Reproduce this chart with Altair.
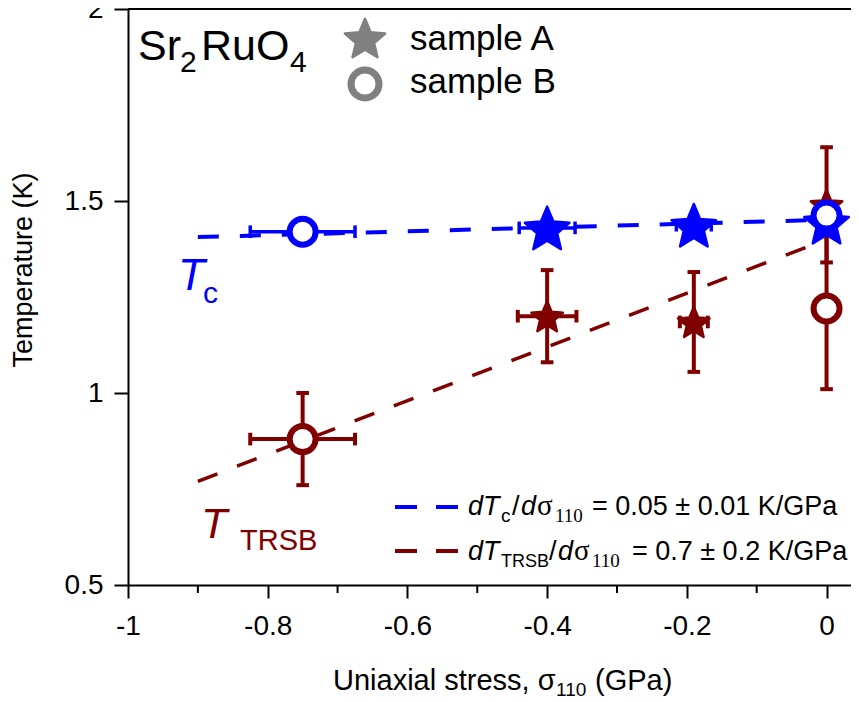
import altair as alt
import pandas as pd

# ---------------- data ----------------
x_ticks = [-1, -0.8, -0.6, -0.4, -0.2, 0]
x_minor = [-0.9, -0.7, -0.5, -0.3, -0.1]
y_ticks = [0.5, 1, 1.5, 2]
y_top = [2.0]

tc_x = [-0.75, -0.40, -0.19, 0.0, 0.0]
tc_y = [1.42, 1.43, 1.437, 1.445, 1.462]
tc_xerr = [0.075, 0.04, 0.025, 0.0, 0.0]
tc_yerr = [0.0, 0.0, 0.0, 0.0, 0.0]
tc_sample = ["B", "A", "A", "A", "B"]

trsb_x = [-0.75, -0.40, -0.19, 0.0, 0.0]
trsb_y = [0.88, 1.20, 1.185, 1.49, 1.22]
trsb_xerr = [0.075, 0.042, 0.02, 0.0, 0.0]
trsb_yerr = [0.12, 0.12, 0.13, 0.15, 0.21]
trsb_sample = ["B", "A", "A", "A", "B"]

tc_fit_x = [-0.9, 0.0]
tc_fit_y = [1.406, 1.451]
trsb_fit_x = [-0.9, 0.0]
trsb_fit_y = [0.77, 1.40]

BLUE = "#0000FF"
RED = "#800000"
GRAY = "#808080"
SANS = "Liberation Sans"
SERIF = "Liberation Serif"

STAR = ("M0,-0.905L0.265,-0.269L0.951,-0.214L0.428,0.235L0.588,0.905L0,0.546"
        "L-0.588,0.905L-0.428,0.235L-0.951,-0.214L-0.265,-0.269Z")
VCAP = "M0,-1L0,1"
HCAP = "M-1,0L1,0"

xs = alt.Scale(domain=[-1, 0.035], nice=False, zero=False)
ys = alt.Scale(domain=[0.5, 2.0], nice=False, zero=False)

x_axis = alt.Axis(values=x_ticks, labelExpr="datum.value + ''", title=None, grid=False,
                  tickSize=13, tickWidth=2, tickColor="black", domainWidth=2, domainColor="black",
                  labelFontSize=28, labelFont=SANS, labelColor="black", labelPadding=14,
                  labelFlush=False, labelOverlap=False)
y_axis = alt.Axis(values=y_ticks, labelExpr="datum.value + ''", title=None, grid=False,
                  tickSize=14, tickWidth=2, tickColor="black", domainWidth=2, domainColor="black",
                  labelFontSize=28, labelFont=SANS, labelColor="black", labelPadding=11,
                  labelFlush=False, labelOverlap=False)


def X(f):
    return alt.X(f"{f}:Q", scale=xs, axis=x_axis)


def Y(f):
    return alt.Y(f"{f}:Q", scale=ys, axis=y_axis)


def frame(xv, yv, xe, ye, smp):
    df = pd.DataFrame({"x": xv, "y": yv, "xerr": xe, "yerr": ye, "sample": smp})
    df["xl"] = df.x - df.xerr
    df["xh"] = df.x + df.xerr
    df["yl"] = df.y - df.yerr
    df["yh"] = df.y + df.yerr
    return df


tc = frame(tc_x, tc_y, tc_xerr, tc_yerr, tc_sample)
trsb = frame(trsb_x, trsb_y, trsb_xerr, trsb_yerr, trsb_sample)


def series_layers(df, color, star_size, lw):
    out = []
    dx = df[df.xerr > 0]
    dy = df[df.yerr > 0]
    if len(dy):
        out.append(alt.Chart(dy).mark_rule(color=color, strokeWidth=lw).encode(
            x=X("x"), y=Y("yl"), y2="yh"))
        for c in ["yl", "yh"]:
            out.append(alt.Chart(dy).mark_point(shape=HCAP, size=160, stroke=color, strokeWidth=lw,
                                                filled=False, opacity=1).encode(x=X("x"), y=Y(c)))
    if len(dx):
        out.append(alt.Chart(dx).mark_rule(color=color, strokeWidth=lw).encode(
            x=X("xl"), x2="xh", y=Y("y")))
        for c in ["xl", "xh"]:
            out.append(alt.Chart(dx).mark_point(shape=VCAP, size=160, stroke=color, strokeWidth=lw,
                                                filled=False, opacity=1).encode(x=X(c), y=Y("y")))
    da = df[df["sample"] == "A"]
    db = df[df["sample"] == "B"]
    out.append(alt.Chart(da).mark_point(shape=STAR, size=star_size, filled=True, fill=color,
                                        stroke=color, strokeWidth=2.5, strokeJoin="round",
                                        opacity=1).encode(x=X("x"), y=Y("y")))
    out.append(alt.Chart(db).mark_point(shape="circle", size=676, filled=False, fill="white",
                                        fillOpacity=1, stroke=color, strokeWidth=6,
                                        opacity=1).encode(x=X("x"), y=Y("y")))
    return out


def fit_line(xv, yv, color, width):
    d = pd.DataFrame({"x": xv, "y": yv})
    return alt.Chart(d).mark_line(color=color, strokeWidth=width, strokeDash=[21, 21]).encode(
        x=X("x"), y=Y("y"))


def txt(s, x, y, size, color="black", italic=False, font=SANS, align="left", angle=0):
    return alt.Chart(pd.DataFrame({"t": [s]})).mark_text(
        align=align, baseline="alphabetic", fontSize=size, font=font,
        fontStyle="italic" if italic else "normal", color=color, angle=angle
    ).encode(x=alt.value(x), y=alt.value(y), text="t:N")


def legend_dash(color, y):
    return alt.Chart(pd.DataFrame({"a": [0]})).mark_rule(
        color=color, strokeWidth=4, strokeDash=[22, 19]).encode(
        x=alt.value(267), x2=alt.value(332), y=alt.value(y))


layers = []
layers.append(fit_line(tc_fit_x, tc_fit_y, BLUE, 4))
layers.append(fit_line(trsb_fit_x, trsb_fit_y, RED, 3.5))
layers += series_layers(trsb, RED, 1100, 4)
layers += series_layers(tc, BLUE, 2200, 3.5)

# top frame line and minor ticks
layers.append(alt.Chart(pd.DataFrame({"y": y_top})).mark_rule(color="black", strokeWidth=2).encode(
    y=Y("y")))
layers.append(alt.Chart(pd.DataFrame({"x": x_minor})).mark_rule(color="black", strokeWidth=2).encode(
    x=X("x"), y=alt.value(576), y2=alt.value(584)))

# top legend
layers.append(alt.Chart(pd.DataFrame({"a": [0]})).mark_point(
    shape=STAR, size=1800, filled=True, fill=GRAY, stroke=GRAY, strokeWidth=2.5,
    strokeJoin="round", opacity=1).encode(x=alt.value(237), y=alt.value(29)))
layers.append(alt.Chart(pd.DataFrame({"a": [0]})).mark_point(
    shape="circle", size=784, filled=False, fill="white", fillOpacity=1, stroke=GRAY,
    strokeWidth=7, opacity=1).encode(x=alt.value(237), y=alt.value(75)))
layers.append(txt("sample A", 282, 41, 35))
layers.append(txt("sample B", 282, 84, 35))

# Sr2RuO4
layers.append(txt("Sr", 10, 51, 43))
layers.append(txt("2", 52, 63, 30))
layers.append(txt("RuO", 73, 51, 43))
layers.append(txt("4", 162, 63, 30))

# curve labels
layers.append(txt("T", 50, 281, 44, BLUE, italic=True))
layers.append(txt("c", 75, 294, 30, BLUE))
layers.append(txt("T", 73, 529, 43, RED, italic=True))
layers.append(txt("TRSB", 112, 541, 29, RED))

# slope legend
layers.append(legend_dash(BLUE, 498))
layers.append(legend_dash(RED, 542))
for (s, x, y, f, it, fn) in [
    ("d", 340, 506, 27, True, SANS), ("T", 355, 506, 27, True, SANS), ("c", 373, 513, 19, False, SANS),
    ("/", 384, 506, 27, False, SANS), ("d", 393, 506, 27, True, SANS), ("σ", 409, 506, 29, False, SERIF),
    ("110", 427, 513, 19, False, SERIF), ("= 0.05 ± 0.01 K/GPa", 464, 506, 27, False, SANS),
    ("d", 340, 551, 27, True, SANS), ("T", 355, 551, 27, True, SANS), ("TRSB", 373, 558, 18, False, SANS),
    ("/", 421, 551, 27, False, SANS), ("d", 430, 551, 27, True, SANS), ("σ", 446, 551, 29, False, SERIF),
    ("110", 464, 558, 19, False, SERIF), ("= 0.7 ± 0.2 K/GPa", 504, 551, 27, False, SANS),
]:
    layers.append(txt(s, x, y, f, italic=it, font=fn))

# axis titles
layers.append(txt("Uniaxial stress, σ", 205, 681, 29))
layers.append(txt("110", 428, 687, 19))
layers.append(txt("(GPa)", 467, 681, 29))
layers.append(txt("Temperature (K)", -96, 261, 27, align="center", angle=270))

chart = alt.layer(*layers).properties(
    width=723, height=576,
    padding={"left": 120, "top": 1, "right": 0, "bottom": 116},
    autosize=alt.AutoSizeParams(type="none"),
).configure_view(stroke=None).configure_axis(
    domainColor="black", tickColor="black", labelColor="black", grid=False
).configure(background="white")

chart.save("out.html", embed_options={"renderer": "svg", "actions": False})
